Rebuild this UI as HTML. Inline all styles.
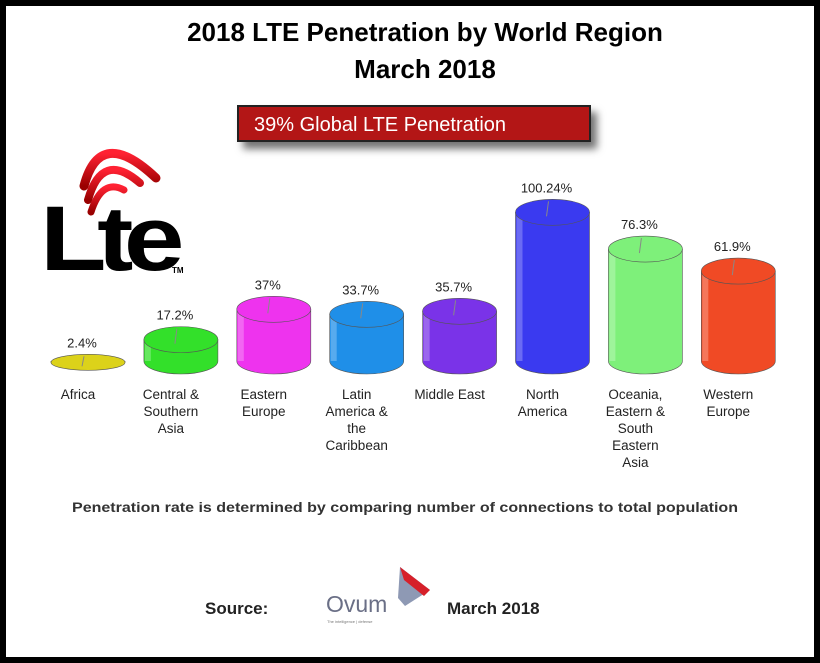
<!DOCTYPE html>
<html><head><meta charset="utf-8"><style>
body{margin:0;background:#000;width:820px;height:663px;overflow:hidden;font-family:"Liberation Sans",sans-serif}
#frame{position:absolute;left:6px;top:6px;width:808px;height:651px;background:#fff}
</style></head><body>
<div id="frame"></div>
<svg width="820" height="663" style="position:absolute;left:0;top:0" id="chart">
<defs>
<filter id="sh" x="-10%" y="-30%" width="130%" height="190%"><feDropShadow dx="6" dy="7" stdDeviation="4" flood-color="#000" flood-opacity="0.55"/></filter>
<linearGradient id="arc" x1="0" y1="0" x2="0" y2="1"><stop offset="0" stop-color="#f23"/><stop offset="1" stop-color="#900"/></linearGradient>
</defs>
<text x="425" y="41" text-anchor="middle" font-size="26" font-weight="bold">2018 LTE Penetration by World Region</text>
<text x="425" y="78" text-anchor="middle" font-size="26" font-weight="bold">March 2018</text>
<g>
<rect x="238" y="106" width="352" height="35" fill="#b31414" stroke="#222" stroke-width="2" filter="url(#sh)"/>
<text x="254" y="131" font-size="20" fill="#fff">39% Global LTE Penetration</text>
</g>
<g>
<path d="M84,186 Q100,125 156,178" stroke="url(#arc)" stroke-width="9" fill="none" stroke-linecap="round"/>
<path d="M88,200 Q102,150 140,183" stroke="url(#arc)" stroke-width="8" fill="none" stroke-linecap="round"/>
<path d="M91,212 Q102,178 124,190" stroke="url(#arc)" stroke-width="7" fill="none" stroke-linecap="round"/>
<text x="40" y="270" font-size="92" font-weight="bold" letter-spacing="-8" fill="#000" textLength="135" lengthAdjust="spacingAndGlyphs">Lte</text>
<text x="172" y="273" font-size="8" font-weight="bold">TM</text>
</g>
<g id="bars"></g>
<text x="72" y="512" font-size="13.5" font-weight="bold" fill="#333" textLength="666" lengthAdjust="spacingAndGlyphs">Penetration rate is determined by comparing number of connections to total population</text>
<g>
<text x="205" y="614" font-size="17" font-weight="bold" fill="#222">Source:</text>
<text x="326" y="612" font-size="23" fill="#6a6f86">Ovum</text>
<text x="327" y="623" font-size="4" fill="#777">The intelligence | defense</text>
<path d="M400,567 L430,590 L405,606 L398,598 Z" fill="#8e99b4"/><path d="M400,567 L430,590 L424,596 L404,580 Z" fill="#d6202a"/>
<text x="447" y="614" font-size="17" font-weight="bold" fill="#222">March 2018</text>
</g>
</svg>
<script>
const categories=["Africa","Central & Southern Asia","Eastern Europe","Latin America & the Caribbean","Middle East","North America","Oceania, Eastern & South Eastern Asia","Western Europe"];
const catLines=[["Africa"],["Central &","Southern","Asia"],["Eastern","Europe"],["Latin","America &","the","Caribbean"],["Middle East"],["North","America"],["Oceania,","Eastern &","South","Eastern","Asia"],["Western","Europe"]];
const values=[2.4,17.2,37,33.7,35.7,100.24,76.3,61.9];
const valueLabels=["2.4%","17.2%","37%","33.7%","35.7%","100.24%","76.3%","61.9%"];
const colors=["#dcd21a","#33e02a","#ee33ee","#1f8fe8","#7a33e8","#3a3af0","#7ef07a","#f04a25"];
const NS="http://www.w3.org/2000/svg";
const g=document.getElementById('bars');
const x=i=>88+i*92.9, base=366, y=v=>base-v*1.533;
values.forEach((v,i)=>{
 const cx=x(i),rx=37,ry=i==0?8:13,top=y(v),bot=base-5;
 const grp=document.createElementNS(NS,'g');
 
 
 g.appendChild(grp);
 const add=(t,a)=>{const e=document.createElementNS(NS,t);for(const k in a)e.setAttribute(k,a[k]);grp.appendChild(e);return e;};
 add('path',{d:`M${cx-rx},${top} L${cx-rx},${bot} A${rx},${ry} 0 0 0 ${cx+rx},${bot} L${cx+rx},${top} Z`,fill:colors[i],stroke:'#555','stroke-width':0.6});
 add('path',{d:`M${cx-rx+4},${top} L${cx-rx+4},${bot}`,stroke:'#fff','stroke-opacity':0.25,'stroke-width':6});
 add('ellipse',{cx:cx,cy:top,rx:rx,ry:ry,fill:colors[i],stroke:'#555','stroke-width':0.6});
 add('line',{x1:cx-4,y1:top-ry+2,x2:cx-6,y2:top+4,stroke:'#888','stroke-width':1});
 const t=add('text',{x:cx-6,y:top-ry-7,'text-anchor':'middle','font-size':13,fill:'#222'});t.textContent=valueLabels[i];
 
 
 catLines[i].forEach((ln,j)=>{const c=add('text',{x:cx-10,y:399+j*17,'text-anchor':'middle','font-size':13.5,fill:'#222'});c.textContent=ln;});
});
</script>
</body></html>
